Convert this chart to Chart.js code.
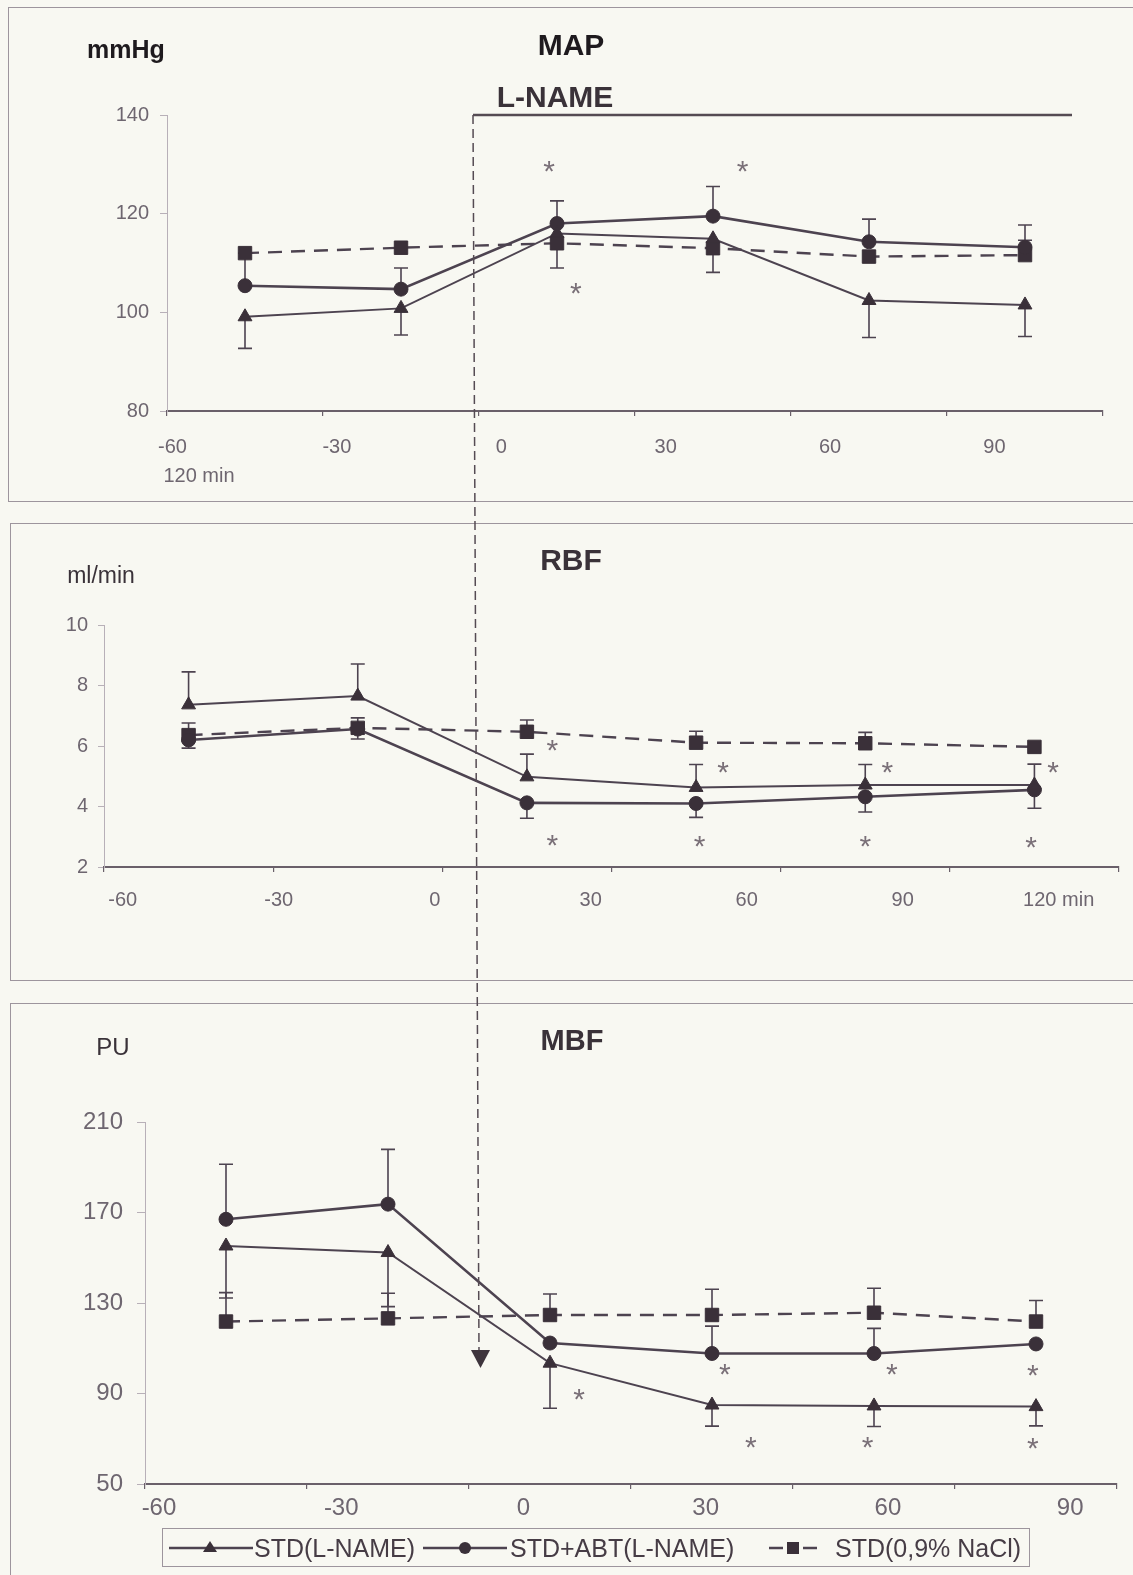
<!DOCTYPE html>
<html>
<head>
<meta charset="utf-8">
<script src="https://cdn.jsdelivr.net/npm/chart.js@4.4.1/dist/chart.umd.min.js"></script>
<style>
  html, body { margin: 0; padding: 0; background: #f8f8f2; }
  #root { position: relative; width: 1133px; height: 1575px; overflow: hidden; background: #f8f8f2;
          font-family: 'Liberation Sans', Arial, sans-serif; }
  .panel { position: absolute; border-top: 1.5px solid #9d959d; border-left: 1.5px solid #9d959d; }
  .cv { position: absolute; left: 0; }
  .txt { position: absolute; white-space: nowrap; transform: translate(-50%, -50%); line-height: 1; }
  #legend { position: absolute; left: 162px; top: 1528px; width: 866px; height: 37px;
            border: 1.5px solid #9d959d; }
  #legend span { position: absolute; top: 50%; transform: translateY(-50%); font-size: 25px; color: #463c45; white-space: nowrap; }
  #legend svg { position: absolute; top: 0; }
</style>
</head>
<body>
<div id="root">
  <div class="panel" style="left:8px;top:7px;width:1140px;height:493px;border-bottom:1.5px solid #9d959d;"></div>
  <div class="panel" style="left:10px;top:523px;width:1140px;height:456px;border-bottom:1.5px solid #9d959d;"></div>
  <div class="panel" style="left:10px;top:1003px;width:1140px;height:600px;"></div>

  <canvas id="c1" class="cv" width="1133" height="505" style="top:0px"></canvas>
  <canvas id="c2" class="cv" width="1133" height="480" style="top:505px"></canvas>
  <canvas id="c3" class="cv" width="1133" height="590" style="top:985px"></canvas>

  <svg width="1133" height="1575" style="position:absolute;left:0;top:0;pointer-events:none">
    <line x1="473" y1="115" x2="1072" y2="115" stroke="#554b53" stroke-width="2.5"/>
    <line x1="473" y1="115" x2="479" y2="1352" stroke="#554b53" stroke-width="1.5" stroke-dasharray="9 5"/>
    <polygon points="471,1350 490,1350 480.5,1368" fill="#3e353d"/>
  </svg>

  <div class="txt" style="left:126px;top:49px;font-size:25px;font-weight:bold;color:#1e1a1e">mmHg</div>
  <div class="txt" style="left:571px;top:45px;font-size:30px;font-weight:bold;color:#1e1a1e">MAP</div>
  <div class="txt" style="left:555px;top:97px;font-size:30px;font-weight:bold;color:#3a3239">L-NAME</div>
  <div class="txt" style="left:199px;top:475px;font-size:20px;color:#6e6670">120 min</div>

  <div class="txt" style="left:571px;top:560px;font-size:30px;font-weight:bold;color:#3a3239">RBF</div>
  <div class="txt" style="left:101px;top:575px;font-size:23px;color:#3a3239">ml/min</div>

  <div class="txt" style="left:572px;top:1040px;font-size:29px;font-weight:bold;color:#3a3239">MBF</div>
  <div class="txt" style="left:113px;top:1047px;font-size:24px;color:#3a3239">PU</div>

  <div id="legend">
    <svg width="100" height="37" style="left:4px">
      <line x1="2" y1="19" x2="86" y2="19" stroke="#4d4350" stroke-width="2.5"/>
      <polygon points="43,12 50,23 36,23" fill="#3a3039"/>
    </svg>
    <span style="left:91px">STD(L-NAME)</span>
    <svg width="100" height="37" style="left:258px">
      <line x1="2" y1="19" x2="86" y2="19" stroke="#4d4350" stroke-width="2.5"/>
      <circle cx="44" cy="19" r="6" fill="#3a3039"/>
    </svg>
    <span style="left:347px">STD+ABT(L-NAME)</span>
    <svg width="80" height="37" style="left:604px">
      <line x1="2" y1="19" x2="16" y2="19" stroke="#4d4350" stroke-width="2.5"/>
      <rect x="20" y="13" width="12" height="12" fill="#3a3039"/>
      <line x1="36" y1="19" x2="50" y2="19" stroke="#4d4350" stroke-width="2.5"/>
    </svg>
    <span style="left:672px">STD(0,9% NaCl)</span>
  </div>
</div>

<script>
// ---------- shared categories & legend names ----------
const periods = ['P1', 'P2', 'P3', 'P4', 'P5', 'P6'];
const seriesNames = ['STD(L-NAME)', 'STD+ABT(L-NAME)', 'STD(0,9% NaCl)'];

// ---------- MAP (mmHg) ----------
const mapTriangle        = [99.1, 100.8, 116.0, 114.9, 102.4, 101.5];
const mapTriangleErrDown = [6.4, 5.4, null, null, 7.5, 6.4];
const mapCircle          = [105.4, 104.7, 118.0, 119.5, 114.3, 113.2];
const mapCircleErrUp     = [6.6, 4.3, 4.6, 6.0, 4.6, 4.5];
const mapSquare          = [112.0, 113.1, 114.0, 113.0, 111.3, 111.6];
const mapSquareErrDown   = [null, null, 5.0, 4.9, null, null];
const mapSquareErrUp     = [null, null, null, null, null, 3.0];
const mapYTicks  = [80, 100, 120, 140];
const mapXTicks  = [-60, -30, 0, 30, 60, 90];
const mapXLabels = ['-60', '-30', '0', '30', '60', '90'];
const mapStars   = [[1.95, 129.5], [3.19, 129.5], [2.12, 104.9]];

// ---------- RBF (ml/min) ----------
const rbfTriangle      = [7.36, 7.65, 4.98, 4.63, 4.71, 4.71];
const rbfTriangleErrUp = [1.09, 1.06, 0.75, 0.76, 0.68, 0.69];
const rbfCircle        = [6.20, 6.56, 4.12, 4.10, 4.32, 4.55];
const rbfCircleErrDown = [0.27, 0.33, 0.51, 0.46, 0.50, 0.61];
const rbfSquare        = [6.36, 6.60, 6.47, 6.11, 6.09, 5.97];
const rbfSquareErrUp   = [0.40, 0.33, 0.39, 0.38, 0.36, null];
const rbfYTicks  = [2, 4, 6, 8, 10];
const rbfXTicks  = [-60, -30, 0, 30, 60, 90, 120];
const rbfXLabels = ['-60', '-30', '0', '30', '60', '90', '120 min'];
const rbfStars   = [[2.15, 6.03], [2.15, 2.89], [3.16, 5.28], [3.02, 2.84],
                    [4.13, 5.28], [4.00, 2.84], [5.11, 5.28], [4.98, 2.80]];

// ---------- MBF (PU) ----------
const mbfTriangle        = [155.2, 152.3, 103.4, 84.9, 84.5, 84.2];
const mbfTriangleErrDown = [23.0, 23.9, 19.9, 9.3, 9.1, 8.5];
const mbfCircle          = [167.0, 173.7, 112.3, 107.7, 107.7, 111.9];
const mbfCircleErrUp     = [24.3, 24.2, null, 12.1, 11.1, null];
const mbfSquare          = [121.8, 123.2, 124.7, 124.7, 125.7, 121.8];
const mbfSquareErrUp     = [12.8, 11.1, 9.3, 11.4, 10.8, 9.3];
const mbfYTicks  = [50, 90, 130, 170, 210];
const mbfXTicks  = [-60, -30, 0, 30, 60, 90];
const mbfXLabels = ['-60', '-30', '0', '30', '60', '90'];
const mbfStars   = [[2.18, 89.6], [3.08, 100.4], [4.11, 100.4], [4.98, 100.2],
                    [3.24, 68.3], [3.96, 68.3], [4.98, 67.7]];

// ---------- styling ----------
const FONT = "'Liberation Sans', Arial, sans-serif";
const LINE = '#4d4350';
const MARK = '#3a3039';
const TICK = '#6e6670';
const AXIS_DARK = '#6a606a';
const AXIS_LIGHT = '#b8b0b8';

function errorBarPlugin() {
  return {
    id: 'errorBars',
    beforeDatasetsDraw(chart) {
      const ctx = chart.ctx;
      const ys = chart.scales.y;
      chart.data.datasets.forEach((ds, di) => {
        const meta = chart.getDatasetMeta(di);
        ['errUp', 'errDown'].forEach(k => {
          const arr = ds[k];
          if (!arr) return;
          arr.forEach((e, i) => {
            if (e == null) return;
            const v = ds.data[i];
            const px = meta.data[i].x;
            const y0 = ys.getPixelForValue(v);
            const y1 = ys.getPixelForValue(k === 'errUp' ? v + e : v - e);
            ctx.save();
            ctx.strokeStyle = LINE;
            ctx.lineWidth = 1.6;
            ctx.beginPath();
            ctx.moveTo(px, y0); ctx.lineTo(px, y1);
            ctx.moveTo(px - 7, y1); ctx.lineTo(px + 7, y1);
            ctx.stroke();
            ctx.restore();
          });
        });
      });
    }
  };
}

function starPlugin(stars) {
  return {
    id: 'stars',
    afterDatasetsDraw(chart) {
      const ctx = chart.ctx;
      const xs = chart.scales.x, ys = chart.scales.y;
      ctx.save();
      ctx.fillStyle = '#7a7078';
      ctx.font = '30px ' + FONT;
      ctx.textAlign = 'center';
      ctx.textBaseline = 'alphabetic';
      const m = ctx.measureText('*');
      const off = (m.actualBoundingBoxAscent - m.actualBoundingBoxDescent) / 2;
      stars.forEach(([sx, sy]) => {
        ctx.fillText('*', xs.getPixelForValue(sx), ys.getPixelForValue(sy) + off);
      });
      ctx.restore();
    }
  };
}

function makePanel(id, cfg) {
  const mk = (label, data, style, extra) => Object.assign({
    label, data,
    borderColor: LINE, backgroundColor: MARK,
    pointBackgroundColor: MARK, pointBorderColor: MARK, pointBorderWidth: 1,
    pointStyle: style, tension: 0, fill: false
  }, extra);

  const datasets = [
    mk(seriesNames[0], cfg.tri, 'triangle', { borderWidth: 2, pointRadius: 8, errUp: cfg.triUp, errDown: cfg.triDown }),
    mk(seriesNames[1], cfg.cir, 'circle', { borderWidth: 2.6, pointRadius: 7, errUp: cfg.cirUp, errDown: cfg.cirDown }),
    mk(seriesNames[2], cfg.sq, 'rect', { borderWidth: 2.4, borderDash: [14, 9], pointRadius: 9.5, errUp: cfg.sqUp, errDown: cfg.sqDown })
  ];

  new Chart(document.getElementById(id), {
    type: 'line',
    data: { labels: periods, datasets },
    options: {
      responsive: false,
      animation: false,
      devicePixelRatio: 1,
      events: [],
      layout: { padding: cfg.padding },
      plugins: { legend: { display: false }, tooltip: { enabled: false }, title: { display: false } },
      scales: {
        x: {
          type: 'category', position: 'bottom', weight: 0, offset: true,
          grid: { offset: true, drawOnChartArea: false, drawTicks: true, tickLength: 5, color: AXIS_DARK, lineWidth: 1.2 },
          border: { display: true, color: AXIS_DARK, width: 2 },
          ticks: { display: false },
          afterFit: s => { s.height = 0; }
        },
        xl: {
          type: 'linear', position: 'bottom', weight: 1,
          min: cfg.xMin, max: cfg.xMax,
          afterBuildTicks: s => { s.ticks = cfg.xTicks.map(v => ({ value: v })); },
          afterFit: s => { s.height = 46; },
          grid: { display: false, drawTicks: false },
          border: { display: false },
          ticks: {
            autoSkip: false, maxRotation: 0, minRotation: 0,
            padding: cfg.xPad, color: TICK,
            font: { family: FONT, size: cfg.xFont },
            callback: (v, i) => cfg.xLabels[i]
          }
        },
        y: {
          type: 'linear', position: 'left',
          min: cfg.yTicks[0], max: cfg.yTicks[cfg.yTicks.length - 1],
          afterBuildTicks: s => { s.ticks = cfg.yTicks.map(v => ({ value: v })); },
          afterFit: s => { s.width = cfg.yWidth; },
          grid: { drawOnChartArea: false, drawTicks: true, tickLength: cfg.yTickLen, color: AXIS_LIGHT, lineWidth: 1 },
          border: { display: true, color: AXIS_LIGHT, width: 1 },
          ticks: { padding: cfg.yPad, color: TICK, font: { family: FONT, size: cfg.yFont } }
        }
      }
    },
    plugins: [errorBarPlugin(), starPlugin(cfg.stars)]
  });
}

makePanel('c1', {
  tri: mapTriangle, triDown: mapTriangleErrDown,
  cir: mapCircle, cirUp: mapCircleErrUp,
  sq: mapSquare, sqDown: mapSquareErrDown, sqUp: mapSquareErrUp,
  yTicks: mapYTicks, xTicks: mapXTicks, xLabels: mapXLabels, stars: mapStars,
  xMin: -61.0, xMax: 109.8,
  padding: { top: 115, left: 0, right: 30, bottom: 48 },
  yWidth: 167, yTickLen: 7, yPad: 11, yFont: 20,
  xPad: 24, xFont: 20
});

makePanel('c2', {
  tri: rbfTriangle, triUp: rbfTriangleErrUp,
  cir: rbfCircle, cirDown: rbfCircleErrDown,
  sq: rbfSquare, sqUp: rbfSquareErrUp,
  yTicks: rbfYTicks, xTicks: rbfXTicks, xLabels: rbfXLabels, stars: rbfStars,
  xMin: -63.6, xMax: 131.6,
  padding: { top: 120, left: 0, right: 14, bottom: 72 },
  yWidth: 104, yTickLen: 6, yPad: 10, yFont: 20,
  xPad: 21, xFont: 20
});

makePanel('c3', {
  tri: mbfTriangle, triDown: mbfTriangleErrDown,
  cir: mbfCircle, cirUp: mbfCircleErrUp,
  sq: mbfSquare, sqUp: mbfSquareErrUp,
  yTicks: mbfYTicks, xTicks: mbfXTicks, xLabels: mbfXLabels, stars: mbfStars,
  xMin: -62.3, xMax: 97.7,
  padding: { top: 137, left: 0, right: 16, bottom: 45 },
  yWidth: 145, yTickLen: 8, yPad: 14, yFont: 24,
  xPad: 10, xFont: 24
});
</script>
</body>
</html>
